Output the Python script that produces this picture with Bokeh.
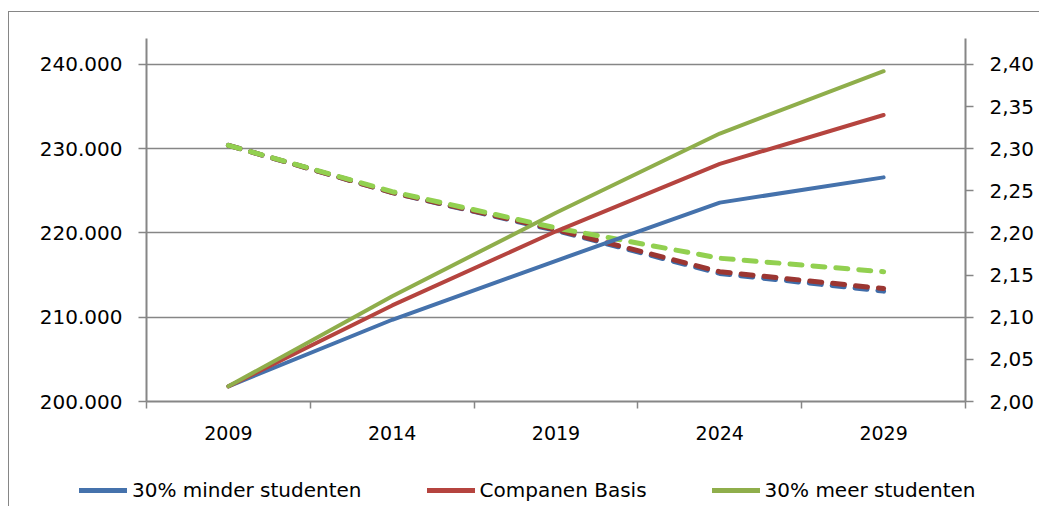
from bokeh.plotting import figure
from bokeh.layouts import column
from bokeh.models import Range1d, LinearAxis, FixedTicker, Legend, LegendItem
from bokeh.embed import file_html
from bokeh.resources import INLINE

# ---- data ----
years = ["2009", "2014", "2019", "2024", "2029"]
minder = [201800, 209700, 216700, 223600, 226600]
basis = [201800, 211400, 220200, 228200, 234000]
meer = [201800, 212500, 222400, 231800, 239200]
minder_ratio = [2.304, 2.248, 2.203, 2.152, 2.131]
basis_ratio = [2.304, 2.248, 2.204, 2.154, 2.134]
meer_ratio = [2.304, 2.249, 2.206, 2.170, 2.154]

left_ticks = [200000, 210000, 220000, 230000, 240000]
left_tick_labels = ["200.000", "210.000", "220.000", "230.000", "240.000"]
right_ticks = [2.00, 2.05, 2.10, 2.15, 2.20, 2.25, 2.30, 2.35, 2.40]
right_tick_labels = ["2,00", "2,05", "2,10", "2,15", "2,20", "2,25", "2,30", "2,35", "2,40"]
series_names = ["30% minder studenten", "Companen Basis", "30% meer studenten"]
solid_colors = ["#4572AC", "#B5443F", "#8FAE4B"]
dashed_colors = ["#3F6CA8", "#9B3632", "#92D050"]

FONT = "DejaVu Sans"
GRAY = "#868686"

xs = list(range(len(years)))

p = figure(width=1030, height=443, output_backend="svg", toolbar_location=None,
           x_range=Range1d(-0.5, len(years) - 0.5), y_range=Range1d(200000, 243080),
           min_border_left=137, min_border_right=74, min_border_top=26, min_border_bottom=54)
p.outline_line_color = None
p.extra_y_ranges = {"r": Range1d(2.0, 2.4308)}

# left axis
ya = p.yaxis[0]
ya.ticker = FixedTicker(ticks=left_ticks)
ya.major_label_overrides = {t: l for t, l in zip(left_ticks, left_tick_labels)}
ya.axis_line_color = GRAY
ya.axis_line_width = 2
ya.major_tick_line_color = GRAY
ya.major_tick_line_width = 1.5
ya.major_tick_out = 8
ya.major_tick_in = 0
ya.minor_tick_line_color = None
ya.major_label_standoff = 16
ya.major_label_text_font = FONT
ya.major_label_text_font_size = "20px"
ya.major_label_text_color = "#000000"

# right axis
ra = LinearAxis(y_range_name="r", ticker=FixedTicker(ticks=right_ticks))
ra.major_label_overrides = {t: l for t, l in zip(right_ticks, right_tick_labels)}
ra.axis_line_color = GRAY
ra.axis_line_width = 2
ra.major_tick_line_color = GRAY
ra.major_tick_line_width = 1.5
ra.major_tick_out = 8
ra.major_tick_in = 0
ra.minor_tick_line_color = None
ra.major_label_standoff = 16
ra.major_label_text_font = FONT
ra.major_label_text_font_size = "20px"
ra.major_label_text_color = "#000000"
p.add_layout(ra, "right")

# x axis
xa = p.xaxis[0]
xa.ticker = FixedTicker(ticks=xs, minor_ticks=[x - 0.5 for x in xs] + [xs[-1] + 0.5])
xa.major_label_overrides = {x: y for x, y in zip(xs, years)}
xa.axis_line_color = GRAY
xa.axis_line_width = 2
xa.major_tick_line_color = None
xa.major_tick_out = 7
xa.major_tick_in = 0
xa.minor_tick_line_color = GRAY
xa.minor_tick_line_width = 1.5
xa.minor_tick_out = 7
xa.minor_tick_in = 0
xa.major_label_standoff = 17
xa.major_label_text_font = FONT
xa.major_label_text_font_size = "19px"
xa.major_label_text_color = "#000000"

p.xgrid.visible = False
p.ygrid.ticker = FixedTicker(ticks=left_ticks[1:])
p.ygrid.grid_line_color = GRAY
p.ygrid.grid_line_width = 1.5

# dashed ratio lines (right axis)
for vals, col in zip([minder_ratio, basis_ratio, meer_ratio], dashed_colors):
    p.line(xs, vals, y_range_name="r", line_color=col, line_width=5,
           line_dash="12 11", line_cap="round")

# solid lines (left axis)
for vals, col in zip([minder, basis, meer], solid_colors):
    p.line(xs, vals, line_color=col, line_width=4, line_cap="round")

# legend strip below the chart
p2 = figure(width=1030, height=51, output_backend="svg", toolbar_location=None,
            x_axis_type=None, y_axis_type=None, x_range=Range1d(0, 1), y_range=Range1d(0, 1),
            min_border_left=0, min_border_right=0, min_border_top=0, min_border_bottom=0)
p2.outline_line_color = None
p2.xgrid.visible = False
p2.ygrid.visible = False
for fig in (p, p2):
    if "frame_align" in fig.properties():
        fig.frame_align = False
items = []
for name, col in zip(series_names, solid_colors):
    # legend key stub (kept outside the visible range of the strip)
    r = p2.line(x=[-5], y=[-5], line_color=col, line_width=5, line_cap="round")
    items.append(LegendItem(label=name, renderers=[r]))
legend = Legend(items=items, orientation="horizontal", location=(70, 4),
                glyph_width=48, glyph_height=20, label_standoff=5, spacing=65,
                padding=0, margin=0, border_line_color=None, background_fill_alpha=0,
                label_text_font=FONT, label_text_font_size="20px", label_text_color="#000000")
p2.add_layout(legend)

layout = column(p, p2, spacing=0,
                styles={"margin-left": "8px", "margin-top": "11px",
                        "border-left": "1.5px solid #868686", "border-top": "1.5px solid #868686"})

open("out.html", "w").write(file_html(layout, INLINE))
